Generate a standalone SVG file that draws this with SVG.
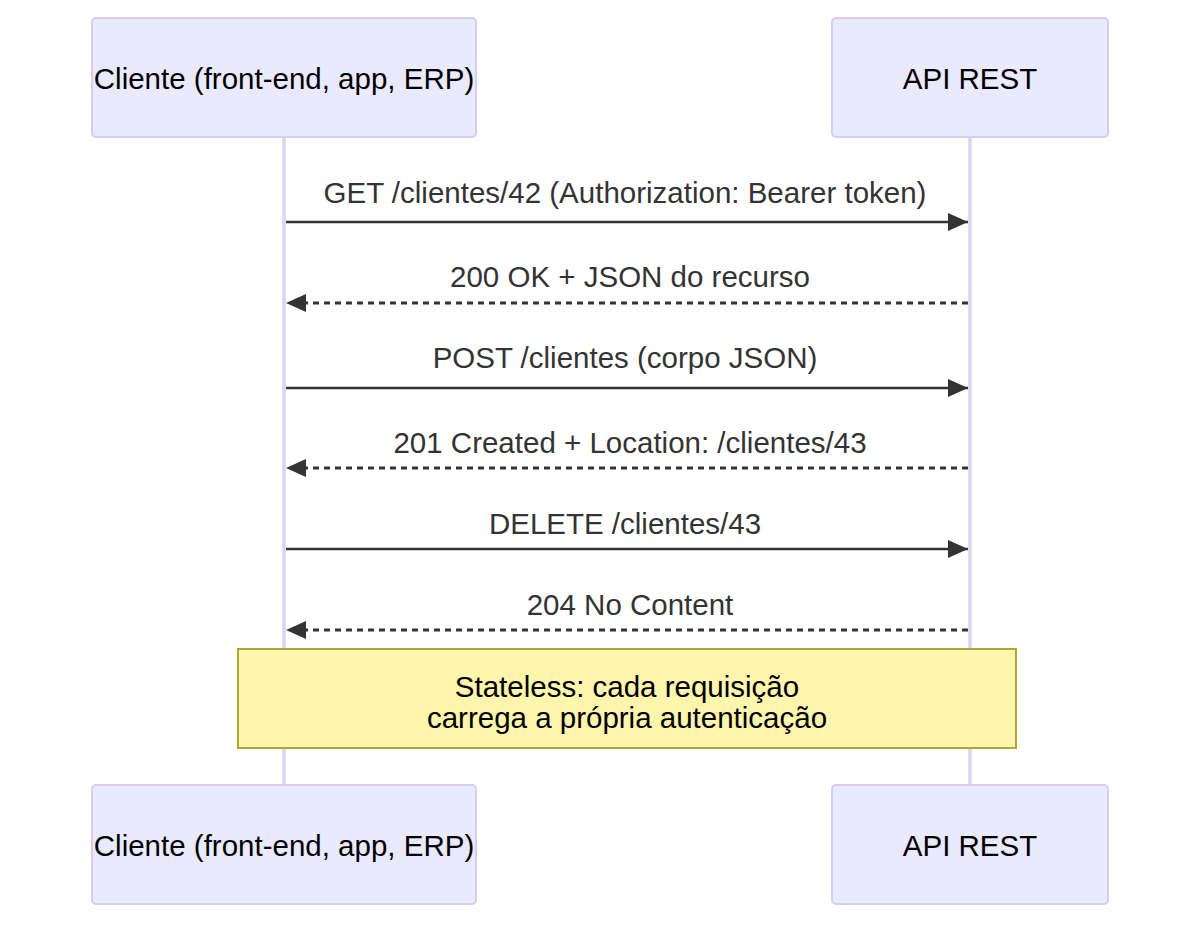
<svg xmlns="http://www.w3.org/2000/svg" width="1200" height="925" viewBox="0 0 1200 925">
<style>
.actor{fill:#eaeaff;stroke:#d6cdf3;stroke-width:2}
.atext{font-family:"Liberation Sans",Arial,sans-serif;font-size:29.5px;fill:#000;text-anchor:middle;dominant-baseline:central}
.life{stroke:#dbd2f4;stroke-width:3.5}
.msg{stroke:#333;stroke-width:2.5;fill:none}
.dash{stroke-dasharray:6,5;stroke-width:3}
.mtext{font-family:"Liberation Sans",Arial,sans-serif;font-size:29.5px;fill:#333;text-anchor:middle}
.note{fill:#fff5ad;stroke:#aaaa33;stroke-width:2}
.ntext{font-family:"Liberation Sans",Arial,sans-serif;font-size:29.5px;fill:#000;text-anchor:middle;dominant-baseline:central}
</style>
<defs>
<marker id="ah" markerUnits="userSpaceOnUse" markerWidth="22" markerHeight="20" refX="21" refY="10" orient="auto">
<path d="M1,1 L21,10 L1,19 Z" fill="#333"/>
</marker>
</defs>
<rect width="1200" height="925" fill="#fff"/>
<g id="lifelines">
<line class="life" x1="284" y1="137" x2="284" y2="785"/>
<line class="life" x1="970" y1="137" x2="970" y2="785"/>
</g>
<g id="actor-cliente-top">
<rect class="actor" x="92" y="18" width="384" height="119" rx="4"/>
<text class="atext" x="284" y="78">Cliente (front-end, app, ERP)</text>
</g>
<g id="actor-api-top">
<rect class="actor" x="832" y="18" width="276" height="119" rx="4"/>
<text class="atext" x="970" y="78">API REST</text>
</g>
<g id="actor-cliente-bottom">
<rect class="actor" x="92" y="785" width="384" height="119" rx="4"/>
<text class="atext" x="284" y="845">Cliente (front-end, app, ERP)</text>
</g>
<g id="actor-api-bottom">
<rect class="actor" x="832" y="785" width="276" height="119" rx="4"/>
<text class="atext" x="970" y="845">API REST</text>
</g>
<g id="connectors">
<line class="msg" x1="286" y1="222" x2="968" y2="222" marker-end="url(#ah)"/>
<text class="mtext" x="625" y="203">GET /clientes/42 (Authorization: Bearer token)</text>
<line class="msg dash" x1="968" y1="303" x2="286" y2="303" marker-end="url(#ah)"/>
<text class="mtext" x="630" y="287">200 OK + JSON do recurso</text>
<line class="msg" x1="286" y1="388" x2="968" y2="388" marker-end="url(#ah)"/>
<text class="mtext" x="625" y="368">POST /clientes (corpo JSON)</text>
<line class="msg dash" x1="968" y1="468" x2="286" y2="468" marker-end="url(#ah)"/>
<text class="mtext" x="630" y="453">201 Created + Location: /clientes/43</text>
<line class="msg" x1="286" y1="549" x2="968" y2="549" marker-end="url(#ah)"/>
<text class="mtext" x="625" y="534">DELETE /clientes/43</text>
<line class="msg dash" x1="968" y1="630" x2="286" y2="630" marker-end="url(#ah)"/>
<text class="mtext" x="630" y="615">204 No Content</text>
</g>
<g id="note">
<rect class="note" x="238" y="649" width="778" height="99"/>
<text class="ntext" x="627" y="686">Stateless: cada requisição</text>
<text class="ntext" x="627" y="717">carrega a própria autenticação</text>
</g>
</svg>
